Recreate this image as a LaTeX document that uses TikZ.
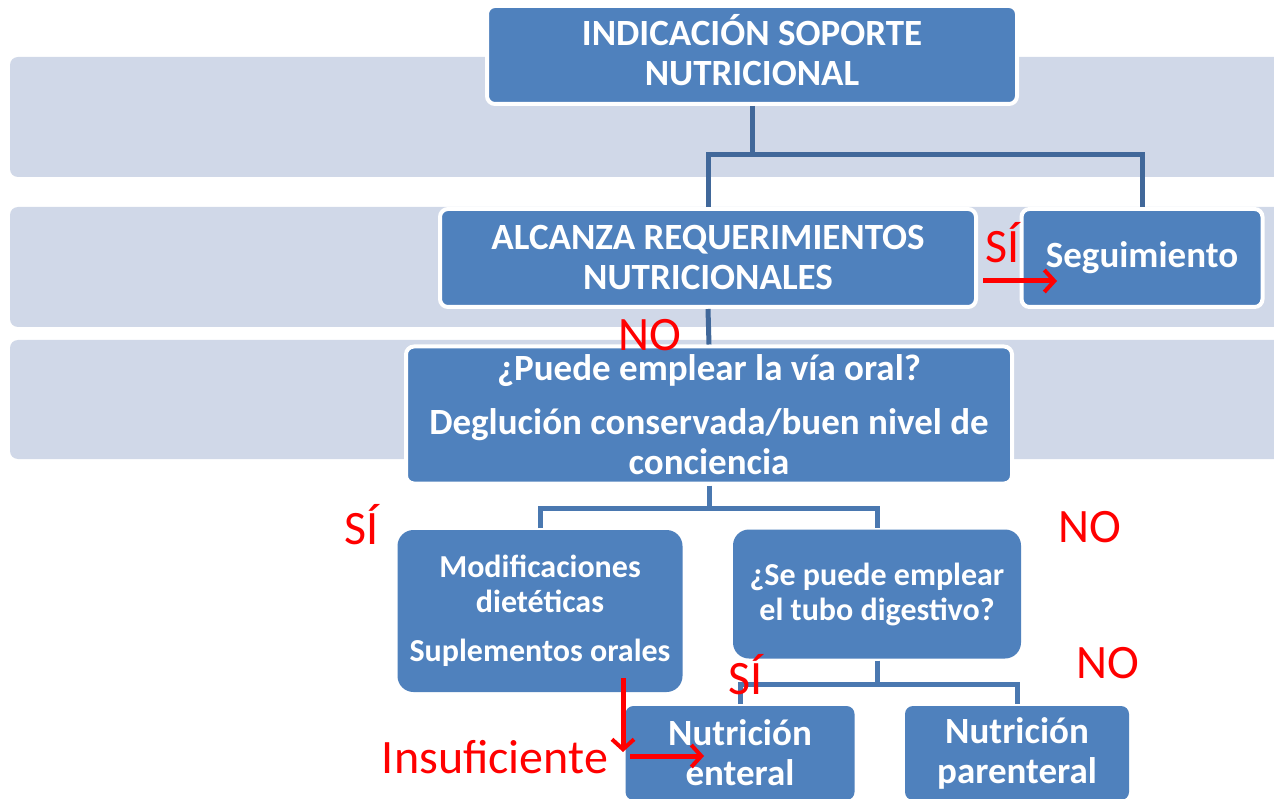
\documentclass[tikz,border=0pt]{standalone}
\usepackage{fontspec}
\setmainfont{Carlito}
\usetikzlibrary{arrows.meta}
\definecolor{boxblue}{HTML}{4F81BD}
\definecolor{bandgray}{HTML}{D0D8E8}
\definecolor{linkblue}{HTML}{41689A}
\definecolor{linkblue2}{HTML}{4A78B0}
\tikzset{
  box/.style={draw=white, line width=4pt, fill=boxblue, rounded corners=8pt,
    text=white, align=center, inner sep=0pt,
    font=\bfseries\fontsize{37}{40}\selectfont},
  softbox/.style={box, draw=none, rounded corners=16pt,
    font=\bfseries\fontsize{32}{35}\selectfont},
  band/.style={fill=bandgray, rounded corners=8pt},
  link/.style={draw=linkblue, line width=5pt},
  link2/.style={draw=linkblue2, line width=5pt},
  answer/.style={text=red, font=\fontsize{48}{50}\selectfont, inner sep=0pt},
  redarr/.style={draw=red, line width=5pt, -{Straight Barb[length=10pt,width=22pt,line width=4pt]}}
}
\begin{document}
\begin{tikzpicture}[x=1pt,y=-1pt]
\useasboundingbox (0,0) rectangle (1274,799);
\fill[white] (0,0) rectangle (1274,799);

% background bands
\fill[band] (10,57) rectangle (1300,177);
\fill[band] (10,207) rectangle (1300,327);
\fill[band] (10,340) rectangle (1300,459);

% boxes
\node[box, minimum width=530, minimum height=98, text depth=10pt] (top) at (752,55)
  {INDICACIÓN SOPORTE\\NUTRICIONAL};
\node[box, minimum width=536, minimum height=98] (req) at (708,258)
  {ALCANZA REQUERIMIENTOS\\NUTRICIONALES};
\node[box, minimum width=241, minimum height=98] (seg) at (1142,258)
  {Seguimiento};
\node[box, minimum width=606, minimum height=137] (oral) at (709,415)
  {¿Puede emplear la vía oral?\\[14pt]Deglución conservada/buen nivel de\\conciencia};
\node[softbox, minimum width=285, minimum height=162] (diet) at (540,611)
  {Modificaciones\\dietéticas\\[14pt]Suplementos orales};
\node[softbox, minimum width=288, minimum height=129] (tubo) at (877,594)
  {¿Se puede emplear\\el tubo digestivo?};
\node[box, draw=none, minimum width=229, minimum height=94] (ent) at (740,753)
  {Nutrición\\enteral};
\node[box, draw=none, minimum width=224, minimum height=94] (par) at (1017,753)
  {Nutrición\\parenteral};

% tree links
\coordinate (j1) at (752,155);
\coordinate (j2) at (709,508);
\coordinate (j3) at (877,684);
\path[link] (top.south) -- (j1);
\path[link] (req.north) |- (j1) -| (seg.north);
\path[link] (req.south) -- (oral.north);
\path[link2] (oral.south) -- (j2);
\path[link2] (diet.north) |- (j2) -| (tubo.north);
\path[link2] (tubo.south) -- (j3);
\path[link2] (ent.north) |- (j3) -| (par.north);

% answers
\node[answer] (si1) at (1003,243) {SÍ};
\node[answer] (no1) at (650,335) {NO};
\node[answer] (si2) at (362,525) {SÍ};
\node[answer] (no2) at (1090,527) {NO};
\node[answer] (si3) at (746,675) {SÍ};
\node[answer] (no3) at (1108,663) {NO};
\node[answer] (insuf) at (495,757) {Insuficiente};

% red arrows
\coordinate (a1) at (983,281);
\coordinate (a2) at (1057,281);
\coordinate (b1) at (623,678);
\coordinate (b2) at (623,752);
\coordinate (c1) at (630,756);
\coordinate (c2) at (704,756);
\path[redarr] (a1) -- (a2);
\path[redarr] (b1) -- (b2);
\path[redarr] (c1) -- (c2);
\end{tikzpicture}
\end{document}
